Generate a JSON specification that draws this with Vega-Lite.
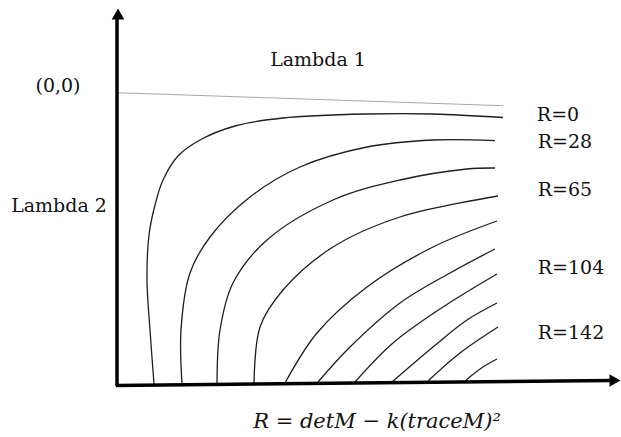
{
  "$schema": "https://vega.github.io/schema/vega-lite/v6.json",
  "width": 621,
  "height": 437,
  "autosize": {"type": "fit", "contains": "padding"},
  "padding": 0,
  "background": "white",
  "view": {"stroke": null},
  "datasets": {
    "curves": [
      {"c": 1, "o": 1, "x": 154, "y": 384},
      {"c": 1, "o": 2, "x": 150, "y": 330},
      {"c": 1, "o": 3, "x": 147, "y": 280},
      {"c": 1, "o": 4, "x": 149, "y": 235},
      {"c": 1, "o": 5, "x": 155, "y": 205},
      {"c": 1, "o": 6, "x": 163, "y": 180},
      {"c": 1, "o": 7, "x": 178, "y": 156},
      {"c": 1, "o": 8, "x": 200, "y": 140},
      {"c": 1, "o": 9, "x": 235, "y": 126},
      {"c": 1, "o": 10, "x": 283, "y": 118},
      {"c": 1, "o": 11, "x": 367, "y": 114},
      {"c": 1, "o": 12, "x": 433, "y": 114},
      {"c": 1, "o": 13, "x": 503, "y": 117.5},
      {"c": 2, "o": 1, "x": 182, "y": 384},
      {"c": 2, "o": 2, "x": 181, "y": 330},
      {"c": 2, "o": 3, "x": 190, "y": 273},
      {"c": 2, "o": 4, "x": 210, "y": 237},
      {"c": 2, "o": 5, "x": 250, "y": 197},
      {"c": 2, "o": 6, "x": 300, "y": 167},
      {"c": 2, "o": 7, "x": 367, "y": 147},
      {"c": 2, "o": 8, "x": 433, "y": 140},
      {"c": 2, "o": 9, "x": 495, "y": 140.7},
      {"c": 3, "o": 1, "x": 217, "y": 384},
      {"c": 3, "o": 2, "x": 220, "y": 330},
      {"c": 3, "o": 3, "x": 233, "y": 283},
      {"c": 3, "o": 4, "x": 267, "y": 240},
      {"c": 3, "o": 5, "x": 333, "y": 200},
      {"c": 3, "o": 6, "x": 400, "y": 180},
      {"c": 3, "o": 7, "x": 467, "y": 169},
      {"c": 3, "o": 8, "x": 495, "y": 168},
      {"c": 4, "o": 1, "x": 254, "y": 384},
      {"c": 4, "o": 2, "x": 260, "y": 327},
      {"c": 4, "o": 3, "x": 283, "y": 290},
      {"c": 4, "o": 4, "x": 333, "y": 247},
      {"c": 4, "o": 5, "x": 400, "y": 217},
      {"c": 4, "o": 6, "x": 498, "y": 196},
      {"c": 5, "o": 1, "x": 285, "y": 383},
      {"c": 5, "o": 2, "x": 317, "y": 333},
      {"c": 5, "o": 3, "x": 367, "y": 287},
      {"c": 5, "o": 4, "x": 433, "y": 247},
      {"c": 5, "o": 5, "x": 497, "y": 221},
      {"c": 6, "o": 1, "x": 318, "y": 382},
      {"c": 6, "o": 2, "x": 350, "y": 347},
      {"c": 6, "o": 3, "x": 400, "y": 303},
      {"c": 6, "o": 4, "x": 450, "y": 273},
      {"c": 6, "o": 5, "x": 495, "y": 249},
      {"c": 7, "o": 1, "x": 355, "y": 382},
      {"c": 7, "o": 2, "x": 393, "y": 343},
      {"c": 7, "o": 3, "x": 443, "y": 307},
      {"c": 7, "o": 4, "x": 497, "y": 274},
      {"c": 8, "o": 1, "x": 392, "y": 382},
      {"c": 8, "o": 2, "x": 433, "y": 347},
      {"c": 8, "o": 3, "x": 467, "y": 320},
      {"c": 8, "o": 4, "x": 497, "y": 303},
      {"c": 9, "o": 1, "x": 428, "y": 381},
      {"c": 9, "o": 2, "x": 460, "y": 353},
      {"c": 9, "o": 3, "x": 498, "y": 327},
      {"c": 10, "o": 1, "x": 466, "y": 380},
      {"c": 10, "o": 2, "x": 483, "y": 367},
      {"c": 10, "o": 3, "x": 497, "y": 359}
    ],
    "guide": [
      {"x": 117, "y": 92.7, "x2": 503, "y2": 105.7}
    ],
    "axes": [
      {"a": "v", "o": 1, "x": 117, "y": 386},
      {"a": "v", "o": 2, "x": 117, "y": 18},
      {"a": "h", "o": 1, "x": 116, "y": 385.5},
      {"a": "h", "o": 2, "x": 611, "y": 380.5}
    ],
    "heads": [
      {"s": "triangle-up", "x": 118, "y": 14},
      {"s": "triangle-right", "x": 615, "y": 380.5}
    ],
    "labels": [
      {"t": "Lambda 1", "x": 318, "y": 60},
      {"t": "(0,0)", "x": 58, "y": 86},
      {"t": "Lambda 2", "x": 59, "y": 206},
      {"t": "R=0", "x": 558, "y": 115},
      {"t": "R=28", "x": 565, "y": 142},
      {"t": "R=65", "x": 565, "y": 190},
      {"t": "R=104", "x": 571, "y": 268},
      {"t": "R=142", "x": 571, "y": 333}
    ],
    "formula": [
      {"t": "R = detM − k(traceM)²", "x": 377, "y": 422}
    ]
  },
  "layer": [
    {
      "data": {"name": "guide"},
      "mark": {"type": "rule", "stroke": "#a8a8a8", "strokeWidth": 1},
      "encoding": {
        "x": {"field": "x", "type": "quantitative", "scale": {"domain": [0, 621], "nice": false, "zero": false}, "axis": null},
        "y": {"field": "y", "type": "quantitative", "scale": {"domain": [0, 437], "nice": false, "zero": false, "reverse": true}, "axis": null},
        "x2": {"field": "x2"},
        "y2": {"field": "y2"}
      }
    },
    {
      "data": {"name": "curves"},
      "mark": {"type": "line", "interpolate": "catmull-rom", "stroke": "#1e1e1e", "strokeWidth": 1.3},
      "encoding": {
        "x": {"field": "x", "type": "quantitative", "axis": null},
        "y": {"field": "y", "type": "quantitative", "axis": null},
        "detail": {"field": "c", "type": "nominal"},
        "order": {"field": "o", "type": "quantitative"}
      }
    },
    {
      "data": {"name": "axes"},
      "mark": {"type": "line", "stroke": "black", "strokeWidth": 3.5},
      "encoding": {
        "x": {"field": "x", "type": "quantitative", "axis": null},
        "y": {"field": "y", "type": "quantitative", "axis": null},
        "detail": {"field": "a", "type": "nominal"},
        "order": {"field": "o", "type": "quantitative"}
      }
    },
    {
      "data": {"name": "heads"},
      "mark": {"type": "point", "filled": true, "color": "black", "opacity": 1, "size": 160},
      "encoding": {
        "x": {"field": "x", "type": "quantitative", "axis": null},
        "y": {"field": "y", "type": "quantitative", "axis": null},
        "shape": {"field": "s", "type": "nominal", "scale": null, "legend": null}
      }
    },
    {
      "data": {"name": "labels"},
      "mark": {"type": "text", "font": "DejaVu Serif", "fontSize": 19, "color": "#111", "align": "center", "baseline": "middle"},
      "encoding": {
        "x": {"field": "x", "type": "quantitative", "axis": null},
        "y": {"field": "y", "type": "quantitative", "axis": null},
        "text": {"field": "t"}
      }
    },
    {
      "data": {"name": "formula"},
      "mark": {"type": "text", "font": "DejaVu Serif", "fontStyle": "italic", "fontSize": 21, "color": "#111", "align": "center", "baseline": "middle"},
      "encoding": {
        "x": {"field": "x", "type": "quantitative", "axis": null},
        "y": {"field": "y", "type": "quantitative", "axis": null},
        "text": {"field": "t"}
      }
    }
  ]
}
